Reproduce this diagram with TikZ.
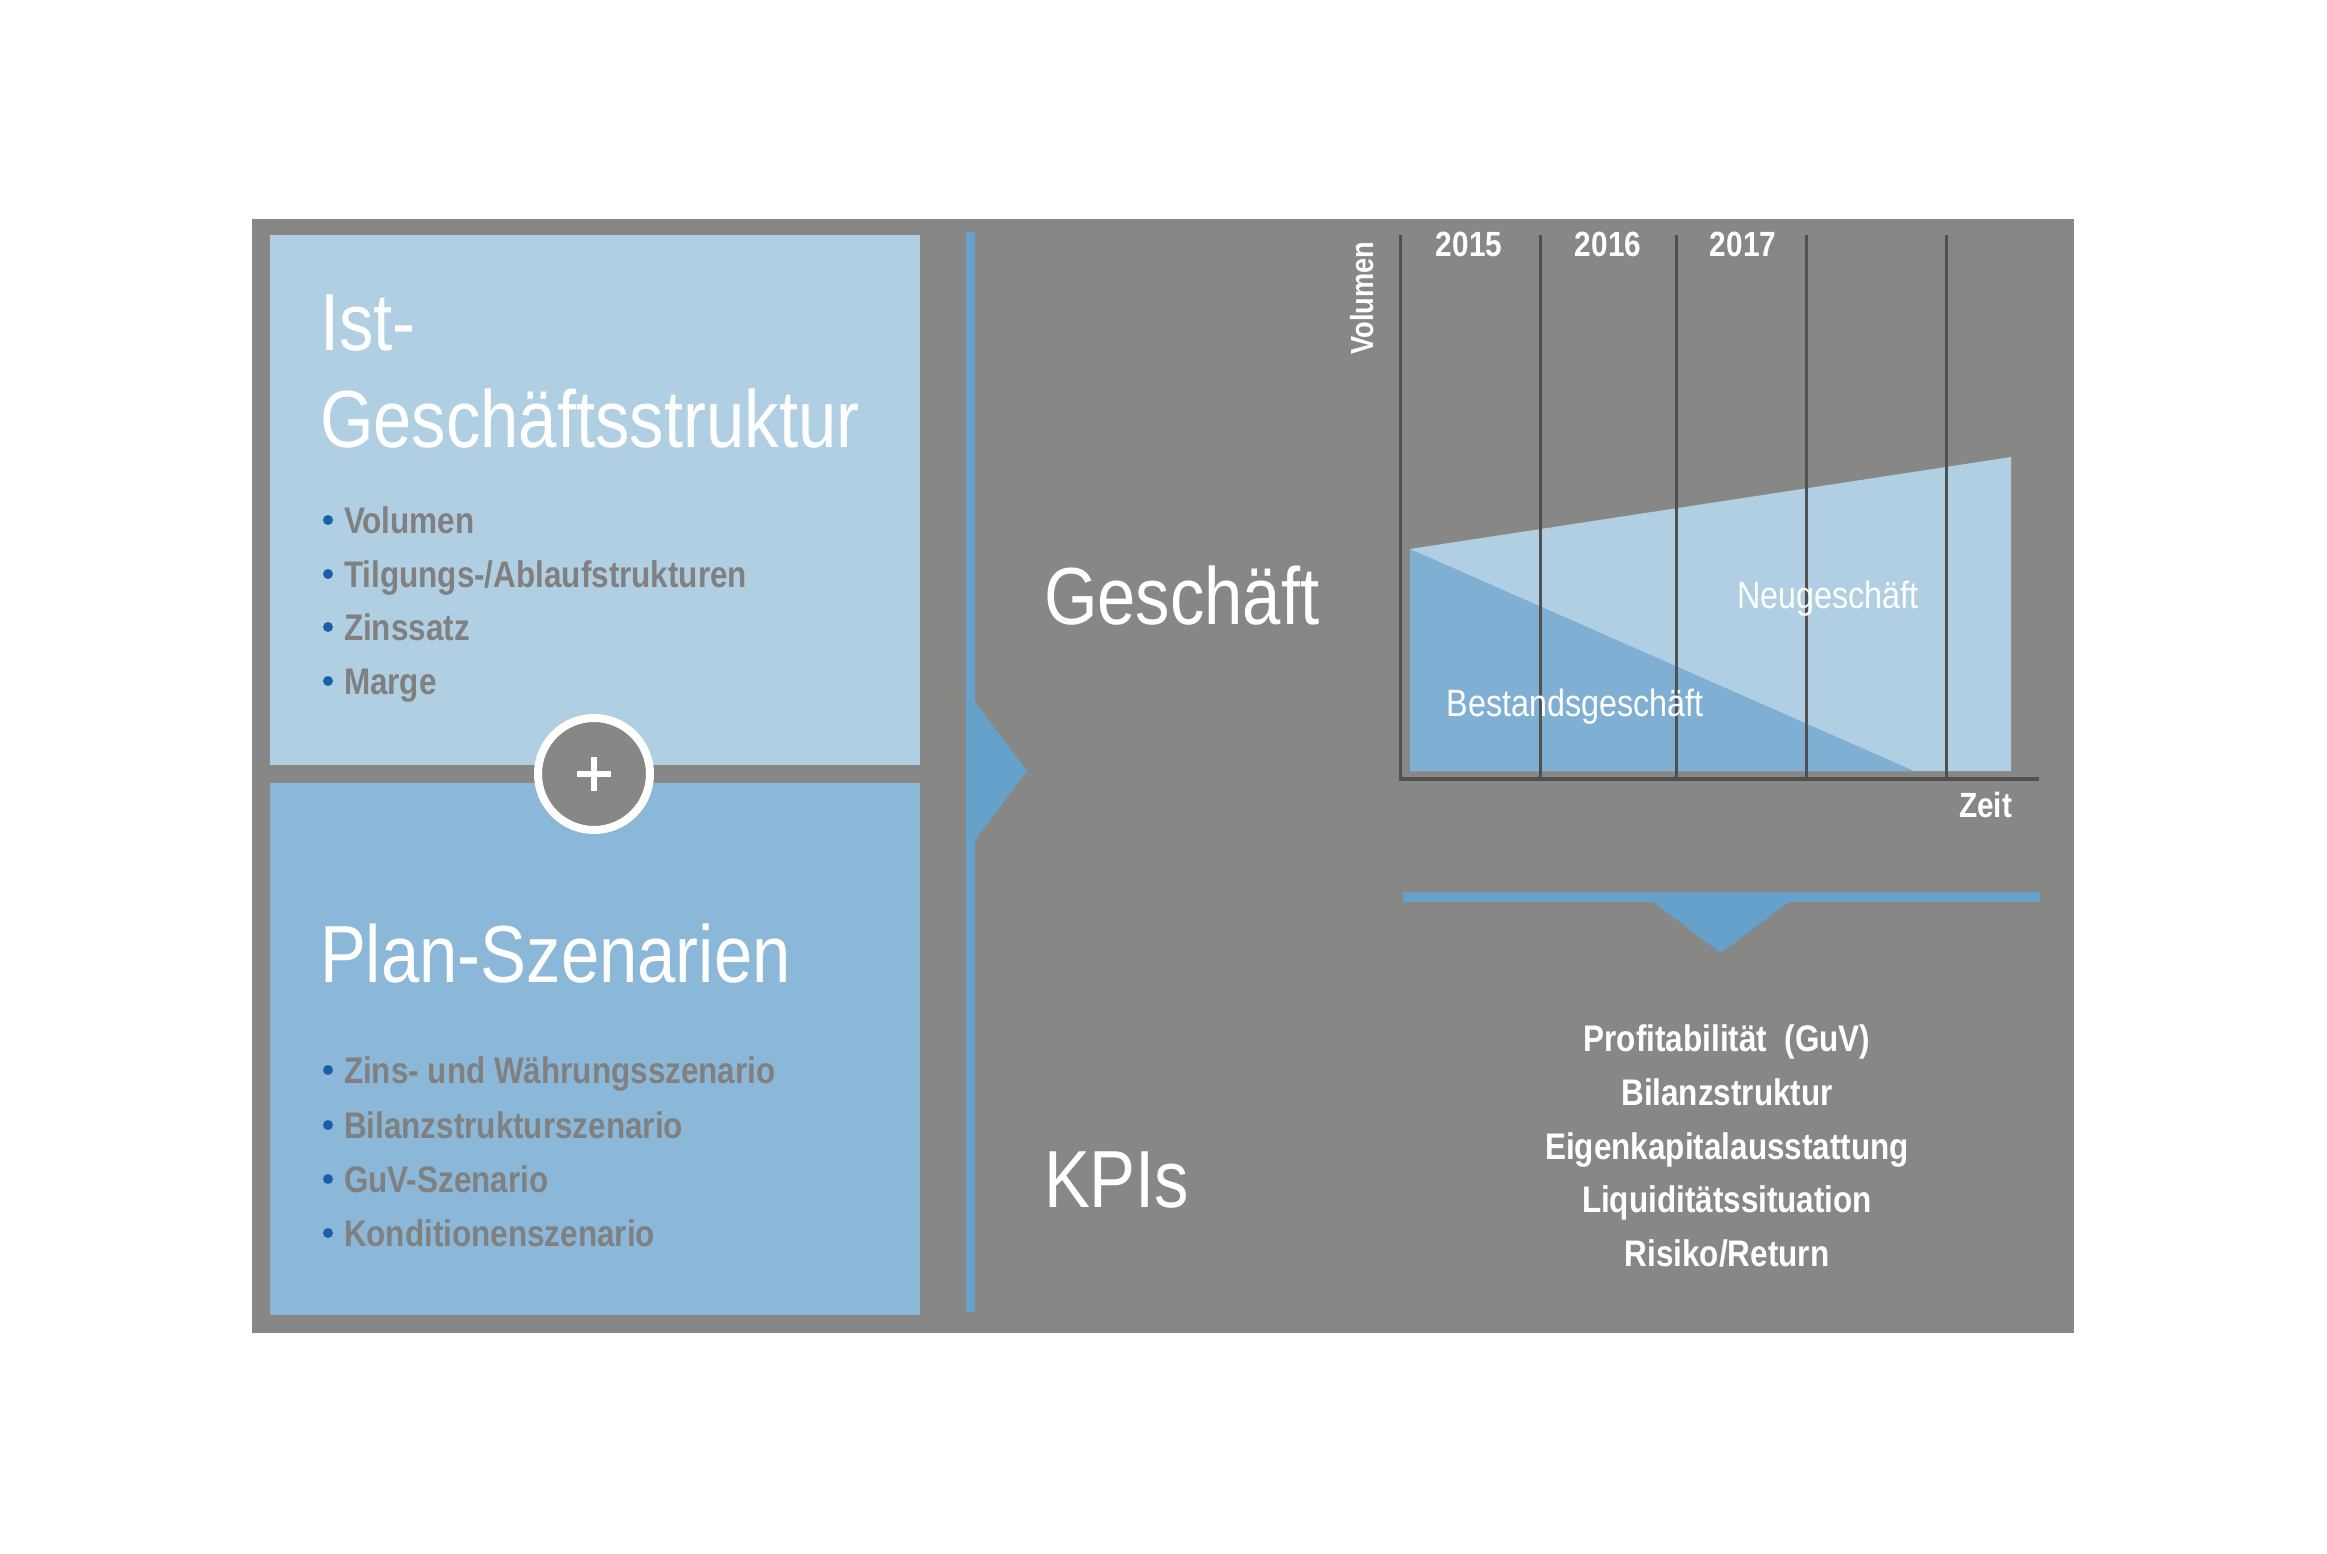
\documentclass[tikz,border=0pt]{standalone}
\usepackage{fontspec}
\setmainfont{Liberation Sans}[FakeStretch=0.85]
\definecolor{bggray}{RGB}{135,135,134}
\definecolor{lightbox}{RGB}{177,207,227}
\definecolor{midbox}{RGB}{139,184,216}
\definecolor{accent}{RGB}{101,161,203}
\definecolor{darkarea}{RGB}{127,175,211}
\definecolor{itemgray}{RGB}{128,128,128}
\definecolor{bulletblue}{RGB}{27,95,170}
\definecolor{axisgray}{RGB}{80,80,80}
\tikzset{
  every node/.style={inner sep=0pt, outer sep=0pt},
  bigtitle/.style={anchor=base west, text=white, font=\fontsize{81}{90}\selectfont},
  listitem/.style={anchor=base west, text=itemgray, font=\bfseries\fontsize{37}{44}\selectfont},
  kpiitem/.style={anchor=base, text=white, font=\bfseries\fontsize{37}{44}\selectfont},
  smallbold/.style={text=white, font=\bfseries\fontsize{35}{40}\selectfont},
  arealabel/.style={anchor=base, text=white, font=\fontsize{38}{44}\selectfont},
  gridline/.style={draw=axisgray, line width=3pt},
  bulletdot/.style={fill=bulletblue},
}
\begin{document}
\begin{tikzpicture}[x=1pt,y=-1pt]
\useasboundingbox (0,0) rectangle (2327,1554);
\fill[white] (0,0) rectangle (2327,1554);
% background panel
\fill[bggray] (252,219) rectangle (2074,1333);
% boxes
\fill[lightbox] (270,235) rectangle (920,765);
\fill[midbox] (270,783) rectangle (920,1315);
% upper box text
\node[bigtitle] (ist1) at (320,350) {Ist-};
\node[bigtitle] (ist2) at (320,447) {Geschäftsstruktur};
\foreach \y/\t/\n in {533/Volumen/a, 587/{Tilgungs-/Ablaufstrukturen}/b, 640/Zinssatz/c, 694/Marge/d}{
  \fill[bulletdot] (328,\y-13) circle (5pt);
  \node[listitem] (ist\n) at (344,\y) {\t};
}
% lower box text
\node[bigtitle] (plan) at (320,982) {Plan-Szenarien};
\foreach \y/\t/\n in {1083/{Zins- und Währungsszenario}/a, 1138/Bilanzstrukturszenario/b, 1192/GuV-Szenario/c, 1246/Konditionenszenario/d}{
  \fill[bulletdot] (328,\y-13) circle (5pt);
  \node[listitem] (plan\n) at (344,\y) {\t};
}
% plus circle
\node[circle, draw=white, line width=8pt, fill=bggray, minimum size=112pt] (plus) at (594,774) {};
\draw[white, line width=6pt] (plus.center) ++(-17,0) -- ++(34,0);
\draw[white, line width=6pt] (plus.center) ++(0,-17) -- ++(0,34);
% vertical blue bar with arrow
\fill[accent] (966,232) rectangle (975,1312);
\fill[accent] (975,702) -- (1027,771) -- (975,840) -- cycle;
% middle labels
\node[bigtitle] (gesch) at (1044,624) {Geschäft};
\node[bigtitle] (kpis) at (1044,1207) {KPIs};
% chart areas
\fill[lightbox] (1410,549) -- (2011,457) -- (2011,771) -- (1410,771) -- cycle;
\fill[darkarea] (1410,549) -- (1914,771) -- (1410,771) -- cycle;
% grid lines and axes
\coordinate (o) at (1400,779);
\coordinate (top) at (1400,235);
\coordinate (xend) at (2039,779);
\foreach \x/\n in {1540/g1, 1676/g2, 1806/g3, 1946/g4}{
  \coordinate (\n t) at (\x,235);
  \coordinate (\n b) at (\x,779);
  \draw[gridline] (\n t) -- (\n b);
}
\draw[gridline] (top) -- (o);
\draw[draw=axisgray, line width=4.5pt] ([xshift=-1.5pt]o) -- (xend);
% chart labels
\node[smallbold, anchor=base] (y15) at (1469,257) {2015};
\node[smallbold, anchor=base] (y16) at (1608,257) {2016};
\node[smallbold, anchor=base] (y17) at (1743,257) {2017};
\node[smallbold, rotate=90, font=\bfseries\fontsize{32}{36}\selectfont] (vol) at (1362,298) {Volumen};
\node[smallbold, anchor=base east] (zeit) at (2012,817) {Zeit};
\node[arealabel] (neu) at (1828,608) {Neugeschäft};
\node[arealabel] (bestand) at (1575,716) {Bestandsgeschäft};
% horizontal blue bar with arrow
\fill[accent] (1403,892) rectangle (2040,902);
\fill[accent] (1652,901) -- (1790,901) -- (1721,953) -- cycle;
% KPI list
\node[kpiitem] (k1) at (1727,1051) {Profitabilität\ \ (GuV)};
\node[kpiitem] (k2) at (1727,1105) {Bilanzstruktur};
\node[kpiitem] (k3) at (1727,1159) {Eigenkapitalausstattung};
\node[kpiitem] (k4) at (1727,1212) {Liquiditätssituation};
\node[kpiitem] (k5) at (1727,1266) {Risiko/Return};
\end{tikzpicture}
\end{document}
